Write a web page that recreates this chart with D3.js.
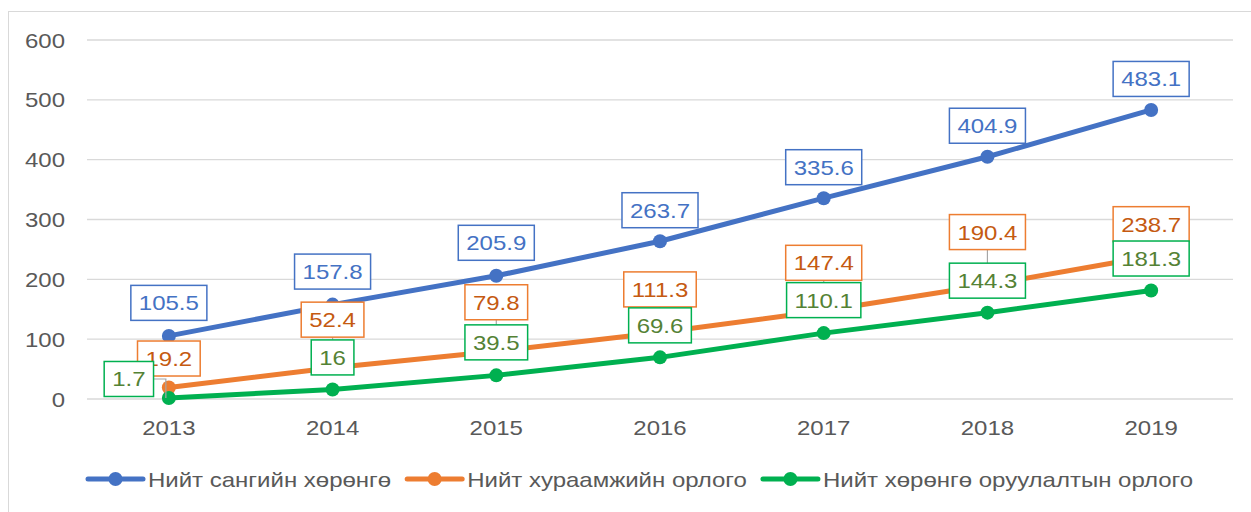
<!DOCTYPE html>
<html>
<head>
<meta charset="utf-8">
<script src="https://cdn.jsdelivr.net/npm/d3@7"></script>
<style>
  body { margin: 0; background: #fff; }
  text { font-family: "Liberation Sans", Arial, sans-serif; font-size: 20px; }
  .tick-label { fill: #595959; }
  .legend-text { fill: #595959; }
</style>
</head>
<body>
<div id="wrapper"></div>
<script>
// data
const years = ["2013", "2014", "2015", "2016", "2017", "2018", "2019"]
const seriesNames = ["Нийт сангийн хөрөнгө", "Нийт хураамжийн орлого", "Нийт хөрөнгө оруулалтын орлого"]
const totalAssets = [105.5, 157.8, 205.9, 263.7, 335.6, 404.9, 483.1]
const premiumIncome = [19.2, 52.4, 79.8, 111.3, 147.4, 190.4, 238.7]
const investmentIncome = [1.7, 16, 39.5, 69.6, 110.1, 144.3, 181.3]
const yTicks = [0, 100, 200, 300, 400, 500, 600]

// styling: line colour, label box border, label text colour
const lineColors = ["#4472C4", "#ED7D31", "#00B050"]
const labelTextColors = ["#4472C4", "#C55A11", "#548235"]
// label nudges (px from the point to the label centre), like Excel's manual label moves
const labelNudge = [
  [[0, -33], [0, -33], [0, -33], [0, -31], [0, -31], [0, -31], [0, -31]],
  [[0, -29], [0, -48], [0, -49], [0, -43], [0, -48], [0, -53], [0, -32]],
  [[-40, -19], [0, -32], [0, -33], [0, -32], [0, -33], [0, -32], [0, -32]],
]

const series = [totalAssets, premiumIncome, investmentIncome]
  .map((values, i) => ({ name: seriesNames[i], values, i }))

const width = 1251
const height = 512
const sx = 1.2 // the picture is stretched sideways a bit

const svg = d3.select("#wrapper").append("svg")
  .attr("width", width)
  .attr("height", height)

// chart area border (only top and left show)
svg.append("rect")
  .attr("x", 8.5).attr("y", 11.5)
  .attr("width", width + 20).attr("height", height + 20)
  .attr("fill", "none")
  .attr("stroke", "#d9d9d9")
  .attr("stroke-width", 1)

const x = d3.scaleBand()
  .domain(years)
  .range([87, 1233])
const y = d3.scaleLinear()
  .domain([0, 600])
  .range([399, 40])
const cx = d => x(d) + x.bandwidth() / 2

// gridlines
svg.append("g")
  .selectAll("line")
  .data(yTicks)
  .join("line")
  .attr("x1", 87).attr("x2", 1233)
  .attr("y1", d => y(d)).attr("y2", d => y(d))
  .attr("stroke", "#d9d9d9")
  .attr("stroke-width", 1.3)

// y tick labels
svg.append("g")
  .selectAll("text")
  .data(yTicks)
  .join("text")
  .attr("class", "tick-label")
  .attr("transform", d => `translate(65, ${y(d) + 7.5}) scale(${sx}, 1)`)
  .attr("text-anchor", "end")
  .text(d => d)

// x tick labels
svg.append("g")
  .selectAll("text")
  .data(years)
  .join("text")
  .attr("class", "tick-label")
  .attr("transform", d => `translate(${cx(d)}, 435) scale(${sx}, 1)`)
  .attr("text-anchor", "middle")
  .text(d => d)

const line = d3.line()
  .x((d, i) => cx(years[i]))
  .y(d => y(d))

const seriesGroups = svg.append("g")
  .selectAll("g")
  .data(series)
  .join("g")

seriesGroups.append("path")
  .attr("d", d => line(d.values))
  .attr("fill", "none")
  .attr("stroke", d => lineColors[d.i])
  .attr("stroke-width", 5)
  .attr("stroke-linejoin", "round")

seriesGroups.selectAll("circle")
  .data(d => d.values.map((v, j) => ({ v, j, s: d.i })))
  .join("circle")
  .attr("cx", d => cx(years[d.j]))
  .attr("cy", d => y(d.v))
  .attr("r", 7)
  .attr("fill", d => lineColors[d.s])

// data labels
const labelData = series.flatMap(s => s.values.map((v, j) => {
  const [dx, dy] = labelNudge[s.i][j]
  return { v, j, s: s.i, px: cx(years[j]), py: y(v), lx: cx(years[j]) + dx, ly: y(v) + dy }
}))

const labelHeight = 35
const labels = svg.append("g")
  .selectAll("g")
  .data(labelData)
  .join("g")

labels.each(function (d) {
  const g = d3.select(this)
  const t = g.append("text")
    .attr("transform", `translate(${d.lx}, ${d.ly + 7.5}) scale(${sx}, 1)`)
    .attr("text-anchor", "middle")
    .attr("fill", labelTextColors[d.s])
    .text(d.v)
  const w = t.node().getComputedTextLength() * sx + 16
  // leader line for labels that were moved away from the point
  if (d.lx !== d.px) {
    g.insert("polyline", "text")
      .attr("points", `${d.lx + w / 2},${d.ly} ${d.px - 3},${d.ly} ${d.px - 3},${d.py}`)
      .attr("fill", "none").attr("stroke", "#a6a6a6").attr("stroke-width", 1.2)
  } else if (d.py - d.ly > 40) {
    g.insert("line", "text")
      .attr("x1", d.px).attr("x2", d.px)
      .attr("y1", d.ly + labelHeight / 2).attr("y2", d.py)
      .attr("stroke", "#a6a6a6").attr("stroke-width", 1.2)
  }
  g.insert("rect", "text")
    .attr("x", d.lx - w / 2)
    .attr("y", d.ly - labelHeight / 2)
    .attr("width", w)
    .attr("height", labelHeight)
    .attr("fill", "#fff")
    .attr("stroke", lineColors[d.s])
    .attr("stroke-width", 1.5)
})

// legend
const legend = svg.append("g")
let lx = 88
series.forEach(s => {
  const item = legend.append("g")
  item.append("line")
    .attr("x1", lx).attr("x2", lx + 55)
    .attr("y1", 479).attr("y2", 479)
    .attr("stroke", lineColors[s.i])
    .attr("stroke-width", 5)
    .attr("stroke-linecap", "round")
  item.append("circle")
    .attr("cx", lx + 27.5).attr("cy", 479)
    .attr("r", 7)
    .attr("fill", lineColors[s.i])
  const t = item.append("text")
    .attr("class", "legend-text")
    .attr("transform", `translate(${lx + 60}, 486.5) scale(${sx}, 1)`)
    .text(s.name)
  lx += 60 + t.node().getComputedTextLength() * sx + 16
})
</script>
</body>
</html>
